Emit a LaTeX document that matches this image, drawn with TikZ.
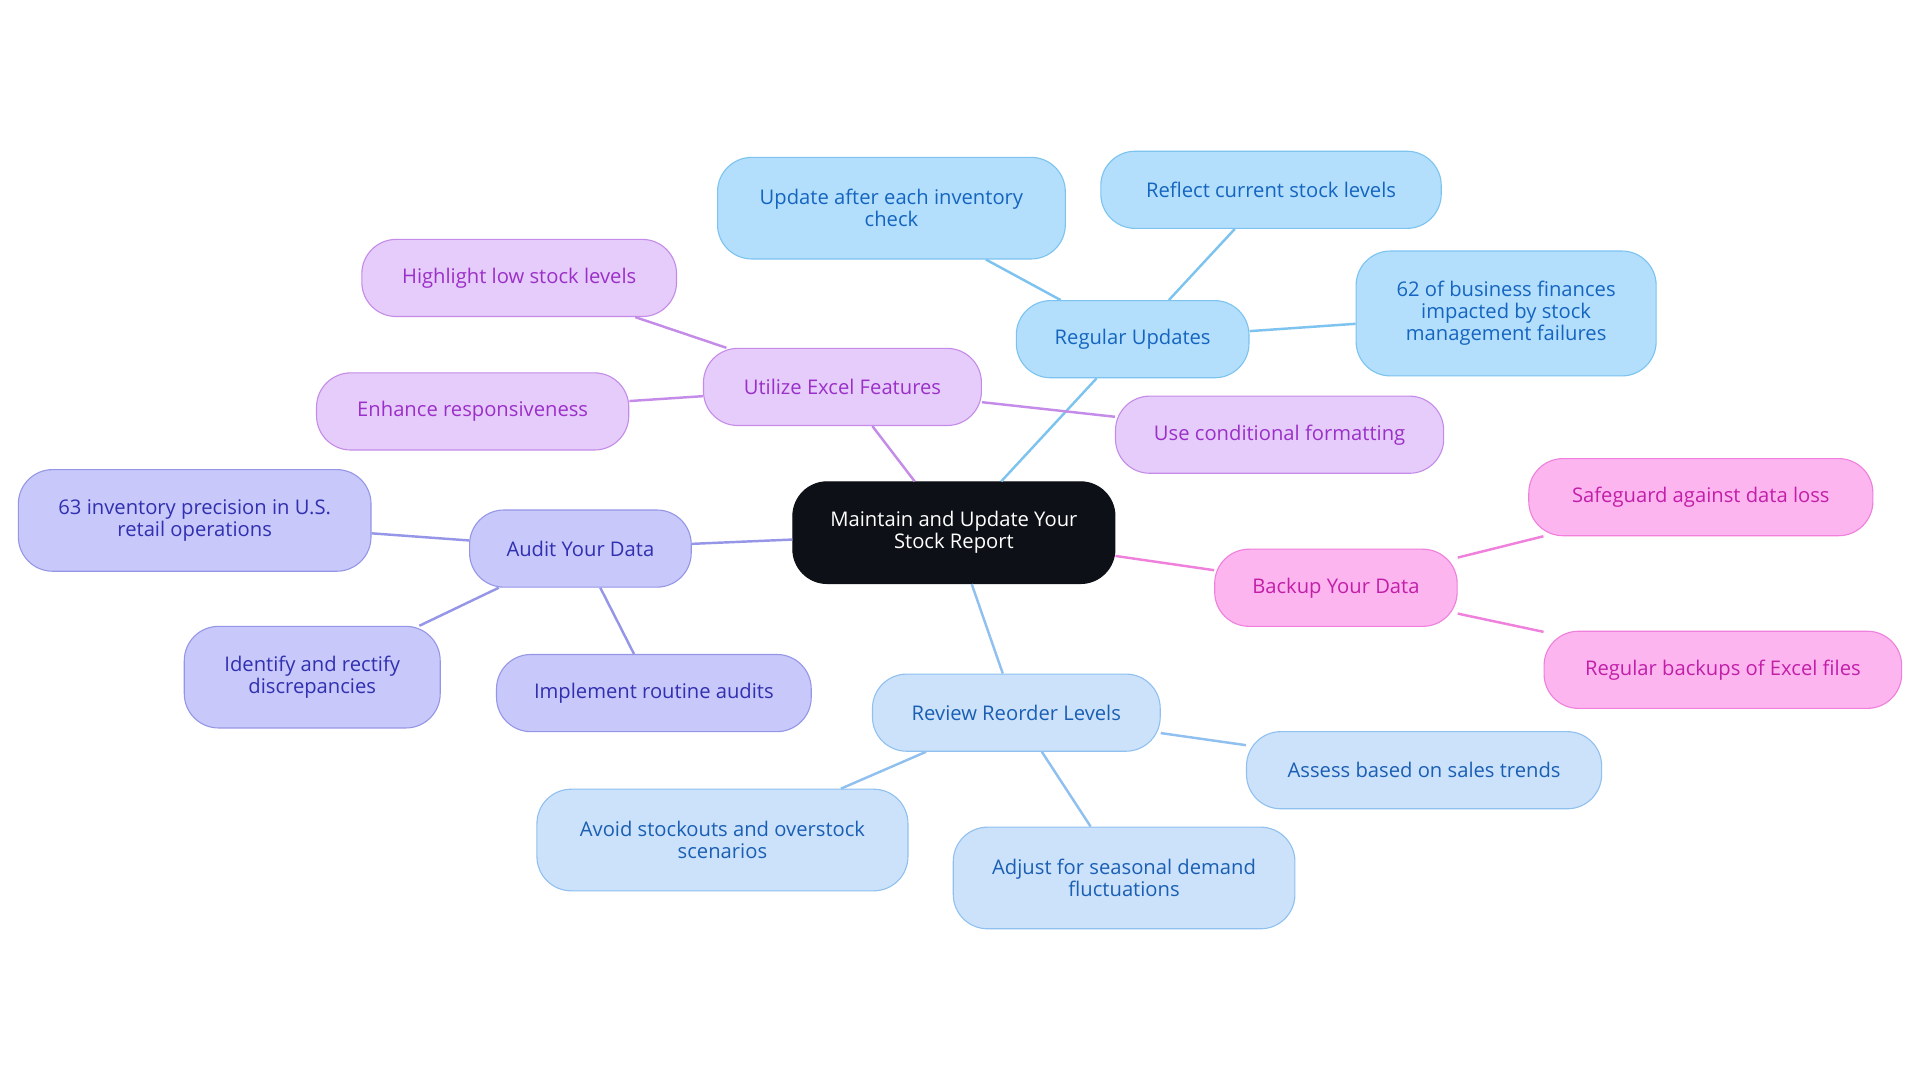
\documentclass[tikz,border=0pt]{standalone}
\usepackage{fontspec}
\setmainfont{Open Sans}
\definecolor{cB}{HTML}{B3DFFC}\definecolor{dB}{HTML}{7CC3F0}\definecolor{tB}{HTML}{1565C0}
\definecolor{cP}{HTML}{E6CCFA}\definecolor{dP}{HTML}{C48CE8}\definecolor{tP}{HTML}{9B30C9}
\definecolor{cV}{HTML}{C8C8FA}\definecolor{dV}{HTML}{9696E8}\definecolor{tV}{HTML}{3030B0}
\definecolor{cM}{HTML}{FDB5F0}\definecolor{dM}{HTML}{EF80DC}\definecolor{tM}{HTML}{C21FA8}
\definecolor{cL}{HTML}{CCE2FA}\definecolor{dL}{HTML}{90C0F0}\definecolor{tL}{HTML}{1A5FB4}
\definecolor{cC}{HTML}{0D1117}
\tikzset{
 box/.style={rounded corners=28pt,draw,line width=0.9pt,align=center,inner sep=0pt,font=\fontsize{16.5}{18}\selectfont},
 gB/.style={box,fill=cB,draw=dB,text=tB},
 gP/.style={box,fill=cP,draw=dP,text=tP},
 gV/.style={box,fill=cV,draw=dV,text=tV},
 gM/.style={box,fill=cM,draw=dM,text=tM},
 gL/.style={box,fill=cL,draw=dL,text=tL},
 eB/.style={draw=dB,line width=2pt},
 eP/.style={draw=dP,line width=2pt},
 eV/.style={draw=dV,line width=2pt},
 eM/.style={draw=dM,line width=2pt},
 eL/.style={draw=dL,line width=2pt},
}
\newcommand{\bx}[6]{\node[#1,minimum width=#4pt,minimum height=#5pt] (#2) at (#3) {#6};}
\begin{document}
\begin{tikzpicture}[x=1pt,y=-1pt]
\useasboundingbox[fill=white] (0,0) rectangle (1568,884);
\bx{box,fill=cC,draw=cC,text=white}{c}{779,435}{263}{83}{Maintain and Update Your\\Stock Report}
\bx{gB}{ru}{925,277}{190}{63}{Regular Updates}
\bx{gB}{ru1}{728,170}{284}{83}{Update after each inventory\\check}
\bx{gB}{ru2}{1038,155}{278}{63}{Reflect current stock levels}
\bx{gB}{ru3}{1230,256}{245}{102}{62 of business finances\\impacted by stock\\management failures}
\bx{gP}{ex}{688,316}{227}{63}{Utilize Excel Features}
\bx{gP}{ex1}{424,227}{257}{63}{Highlight low stock levels}
\bx{gP}{ex2}{386,336}{255}{63}{Enhance responsiveness}
\bx{gV}{au}{474,448}{181}{63}{Audit Your Data}
\bx{gV}{au1}{159,425}{288}{83}{63 inventory precision in U.S.\\retail operations}
\bx{gV}{au2}{255,553}{209}{83}{Identify and rectify\\discrepancies}
\bx{gV}{au3}{534,566}{257}{63}{Implement routine audits}
\bx{gM}{bk}{1091,480}{198}{63}{Backup Your Data}
\bx{gM}{bk1}{1389,406}{281}{63}{Safeguard against data loss}
\bx{gM}{bk2}{1407,547}{292}{63}{Regular backups of Excel files}
\bx{gL}{rv}{830,582}{235}{63}{Review Reorder Levels}
\bx{gL}{rv1}{1163,629}{290}{63}{Assess based on sales trends}
\bx{gL}{rv2}{590,686}{303}{83}{Avoid stockouts and overstock\\scenarios}
\bx{gL}{rv3}{918,717}{279}{83}{Adjust for seasonal demand\\fluctuations}
\bx{gP}{ex3}{1045,355}{268}{63}{Use conditional formatting}
\draw[eB] (c) -- (ru); \draw[eB] (ru) -- (ru1); \draw[eB] (ru) -- (ru2); \draw[eB] (ru) -- (ru3);
\draw[eP] (c) -- (ex); \draw[eP] (ex) -- (ex1); \draw[eP] (ex) -- (ex2); \draw[eP] (ex) -- (ex3);
\draw[eV] (c) -- (au); \draw[eV] (au) -- (au1); \draw[eV] (au) -- (au2); \draw[eV] (au) -- (au3);
\draw[eM] (c) -- (bk); \draw[eM] (bk) -- (bk1); \draw[eM] (bk) -- (bk2);
\draw[eL] (c) -- (rv); \draw[eL] (rv) -- (rv1); \draw[eL] (rv) -- (rv2); \draw[eL] (rv) -- (rv3);
\end{tikzpicture}
\end{document}
